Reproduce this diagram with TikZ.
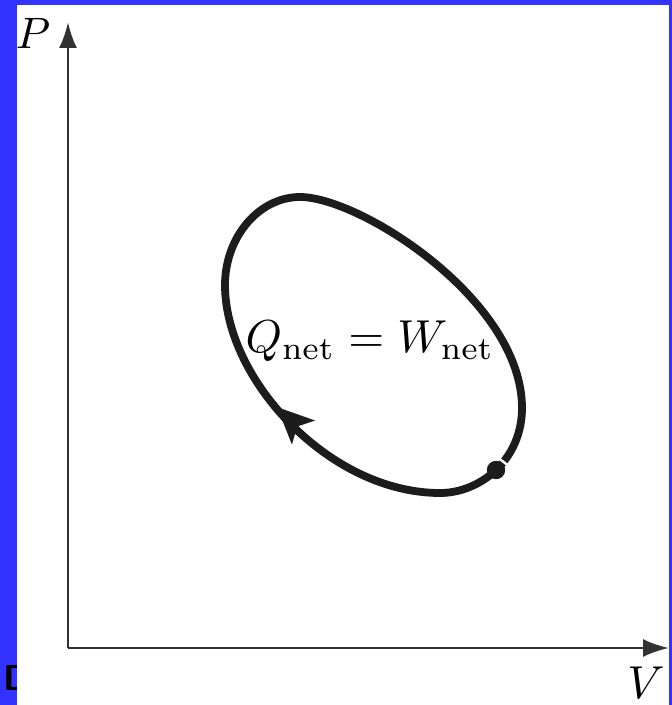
\documentclass[tikz,border=0pt]{standalone}
\usepackage{amsmath}
\usetikzlibrary{arrows.meta}

\definecolor{rahmenblau}{RGB}{51,51,255}
\definecolor{achsgrau}{RGB}{50,50,50}
\definecolor{kurvenschwarz}{RGB}{28,28,28}

\tikzset{
	achse/.style={line width=1.4pt, achsgrau, -{Latex[length=13pt,width=9pt]}},
	kurve/.style={line width=3.9pt, kurvenschwarz, line join=round},
	beschriftung/.style={inner sep=0pt, scale=2.2}
}

\begin{document}
\begin{tikzpicture}[x=0.5pt, y=-0.5pt]
	\useasboundingbox (0,0) rectangle (672,705);
	
	% Zeichnet den blauen Rahmen mit dem abgeschnittenen Buchstaben
	\fill[rahmenblau] (0,0) rectangle (672,705);
	\node[anchor=base west, inner sep=0pt, scale=1.8, font=\sffamily\bfseries] (rest) at (3,690) {D};
	\fill[white] (17,5) rectangle (669,705);
	
	%Ursprung der Achsen
	\coordinate (O) at (68,648);
	\coordinate (Pspitze) at (68,22);
	\coordinate (Vspitze) at (669,648);
	
	% Zeichnet die P- und V-Achse
	\draw[achse] (O) -- (Pspitze);
	\draw[achse] (O) -- (Vspitze);
	\node[beschriftung] (P) at (33,33) {$P$};
	\node[beschriftung, scale=1.05] (V) at (646,683) {$V$};
	
	% Punkte der geschlossenen Kurve
	\coordinate (links) at (225,285);
	\coordinate (oben) at (300,197);
	\coordinate (rechts) at (522,408);
	\coordinate (unten) at (440,493);
	
	% Zeichnet den Kreisprozess
	\draw[kurve] (links) .. controls (225,237) and (259,197) .. (oben)
		.. controls (360,197) and (522,300) .. (rechts)
		.. controls (522,460) and (480,493) .. (unten)
		.. controls (330,493) and (225,380) .. cycle;
	
	% Zeichnet Pfeil (Umlaufrichtung)
	\coordinate (pfeilA) at (285.2,414.9);
	\coordinate (pfeilB) at (277,407);
	\draw[kurve][-{Stealth[length=18pt,width=16pt,inset=4pt]}] (pfeilA) -- (pfeilB);
	
	% Zeichnet Startpunkt mit kleiner Lücke
	\coordinate (start) at (496,470);
	\draw[white, line width=1.2pt] (498.3,457.8) -- (507.7,465.2);
	\fill[kurvenschwarz] (start) circle [radius=4.6pt];
	
	% Beschriftung in der Mitte
	\node[beschriftung, scale=1.05] (bilanz) at (370,341) {$Q_{\text{net}} = W_{\text{net}}$};
	
\end{tikzpicture}
\end{document}
